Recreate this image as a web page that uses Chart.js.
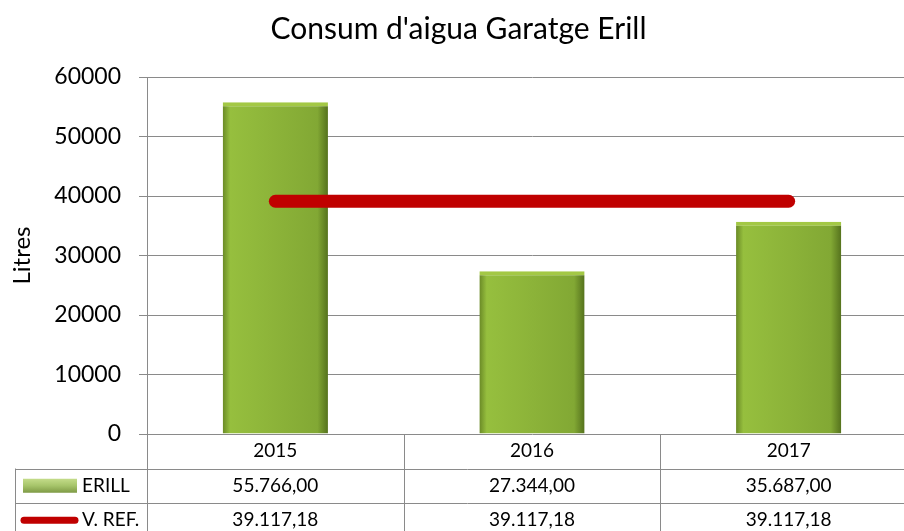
<!DOCTYPE html>
<html>
<head>
<meta charset="utf-8">
<title>Consum d'aigua Garatge Erill</title>
<script src="https://cdn.jsdelivr.net/npm/chart.js@4/dist/chart.umd.min.js"></script>
<style>
  html, body { margin: 0; padding: 0; background: #fff; overflow: hidden; }
  #wrap { width: 920px; height: 531px; }
</style>
</head>
<body>
<div id="wrap"><canvas id="myChart" width="920" height="531"></canvas></div>
<script>
// dades del grafic
const years = ['2015', '2016', '2017'];
const erill = [55766, 27344, 35687];
const vRef = [39117.18, 39117.18, 39117.18];
const seriesNames = ['ERILL', 'V. REF.'];

const FONT = 'Lato, "Open Sans", sans-serif';
const GRID = '#8a8a8a';

// format catala: 55.766,00
function fmt(v) {
    const parts = v.toFixed(2).split('.');
    return parts[0].replace(/\B(?=(\d{3})+(?!\d))/g, '.') + ',' + parts[1];
}

// degradat horitzontal de cada barra
function barGradient(c) {
    const chart = c.chart;
    if (!chart.chartArea) return '#8db43a';
    const x = chart.scales.x;
    const w = (x.width / years.length) * 0.41;
    const cx = x.getPixelForValue(c.dataIndex);
    const g = chart.ctx.createLinearGradient(cx - w / 2, 0, cx + w / 2, 0);
    g.addColorStop(0, '#6a8a26');
    g.addColorStop(0.07, '#96bf3e');
    g.addColorStop(0.5, '#8cb339');
    g.addColorStop(0.9, '#82a834');
    g.addColorStop(1, '#55721d');
    return g;
}

// taula de dades sota l'eix
const dataTable = {
    id: 'dataTable',
    afterDraw(chart) {
        const ctx = chart.ctx;
        const x = chart.scales.x;
        const top = chart.chartArea.bottom;
        const rowH = 34.5;
        const right = chart.width;
        const bottom = chart.height;
        const step = x.width / years.length;

        ctx.save();
        ctx.strokeStyle = GRID;
        ctx.lineWidth = 1;
        ctx.beginPath();
        for (let r = 1; r <= 2; r++) {
            const y = Math.round(top + r * rowH) + 0.5;
            ctx.moveTo(15, y);
            ctx.lineTo(right, y);
        }
        ctx.moveTo(15.5, top + rowH);
        ctx.lineTo(15.5, bottom);
        for (let i = 0; i <= years.length; i++) {
            const lx = Math.round(x.left + i * step) + 0.5;
            ctx.moveTo(lx, top);
            ctx.lineTo(lx, bottom);
        }
        ctx.stroke();

        ctx.fillStyle = '#000';
        ctx.font = '19px ' + FONT;
        ctx.textAlign = 'center';
        ctx.textBaseline = 'middle';
        years.forEach((yr, i) => {
            const cx = x.getPixelForValue(i);
            ctx.fillText(yr, cx, top + rowH * 0.5);
            ctx.fillText(fmt(erill[i]), cx, top + rowH * 1.5);
            ctx.fillText(fmt(vRef[i]), cx, top + rowH * 2.5);
        });

        // claus de llegenda
        const g = ctx.createLinearGradient(0, top + rowH * 1.5 - 7, 0, top + rowH * 1.5 + 7);
        g.addColorStop(0, '#c4dc8a');
        g.addColorStop(0.5, '#a6c46a');
        g.addColorStop(1, '#7e9a45');
        ctx.fillStyle = g;
        ctx.fillRect(23, top + rowH * 1.5 - 7, 54, 14);

        ctx.strokeStyle = '#c00000';
        ctx.lineWidth = 7;
        ctx.lineCap = 'round';
        ctx.beginPath();
        ctx.moveTo(24, top + rowH * 2.5);
        ctx.lineTo(75, top + rowH * 2.5);
        ctx.stroke();

        ctx.fillStyle = '#000';
        ctx.textAlign = 'left';
        ctx.fillText(seriesNames[0], 82, top + rowH * 1.5);
        ctx.fillText(seriesNames[1], 82, top + rowH * 2.5);
        ctx.restore();
    }
};

const ctx = document.getElementById('myChart').getContext('2d');
new Chart(ctx, {
    data: {
        labels: years,
        datasets: [{
            type: 'line',
            label: seriesNames[1],
            data: vRef,
            borderColor: '#c00000',
            borderWidth: 13,
            borderCapStyle: 'round',
            pointRadius: 0,
            order: 0
        }, {
            type: 'bar',
            label: seriesNames[0],
            data: erill,
            backgroundColor: barGradient,
            borderColor: '#a3c845',
            borderWidth: { top: 4, left: 0, right: 0, bottom: 0 },
            borderSkipped: 'bottom',
            barPercentage: 0.41,
            categoryPercentage: 1,
            order: 1
        }]
    },
    options: {
        responsive: false,
        animation: false,
        layout: { padding: { left: 0, right: 3, top: 0, bottom: 0 } },
        plugins: {
            legend: { display: false },
            tooltip: { enabled: false },
            title: {
                display: true,
                text: "Consum d'aigua Garatge Erill",
                color: '#000',
                font: { family: FONT, size: 30, weight: 'normal' },
                padding: { top: 11, bottom: 30 }
            }
        },
        scales: {
            x: {
                ticks: { display: false },
                grid: { display: false },
                border: { display: false },
                afterFit(s) { s.height = 97; }
            },
            y: {
                min: 0,
                max: 60000,
                ticks: {
                    stepSize: 10000,
                    color: '#000',
                    padding: 18,
                    font: { family: FONT, size: 23 },
                    callback: (v) => String(v)
                },
                grid: { color: GRID, tickLength: 8 },
                border: { color: GRID },
                title: {
                    display: true,
                    text: 'Litres',
                    color: '#000',
                    font: { family: FONT, size: 24 },
                    padding: { top: 8, bottom: 0 }
                },
                afterFit(s) { s.width = 147; }
            }
        }
    },
    plugins: [dataTable]
});
</script>
</body>
</html>
